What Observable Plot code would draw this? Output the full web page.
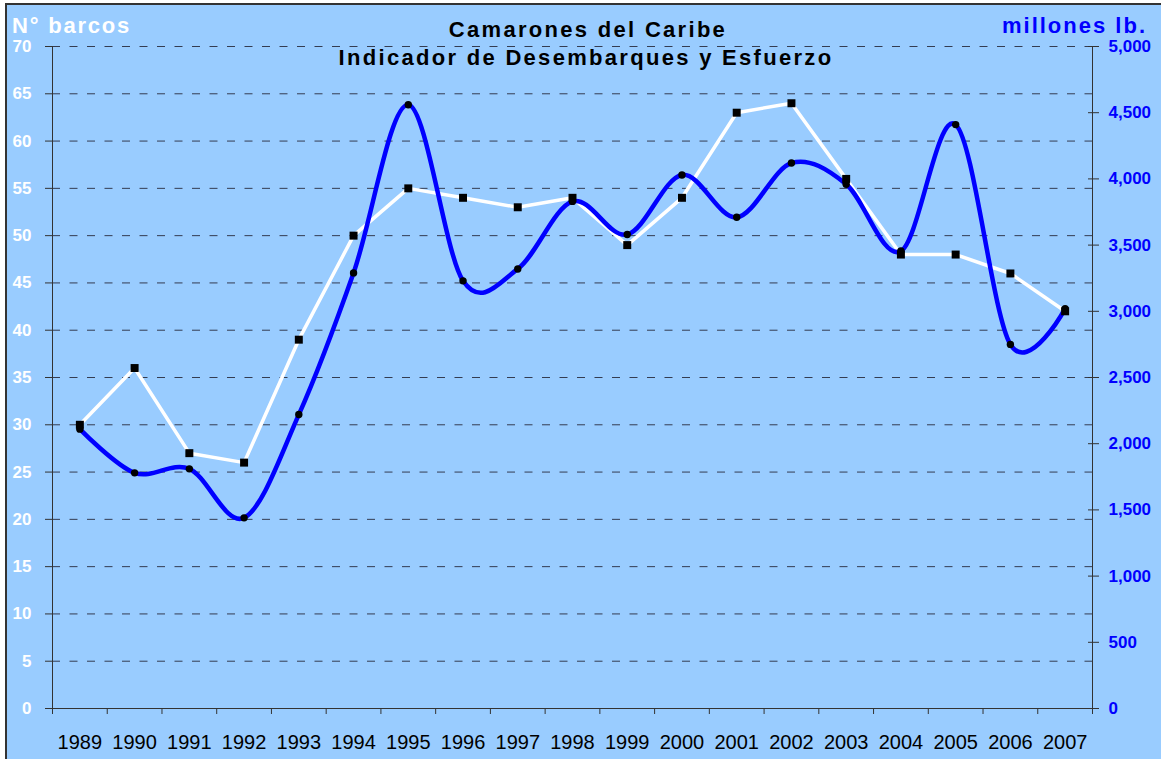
<!DOCTYPE html>
<html>
<head>
<meta charset="utf-8">
<script src="https://cdn.jsdelivr.net/npm/d3@7"></script>
<script src="https://cdn.jsdelivr.net/npm/@observablehq/plot@0.6"></script>
<style>
  html, body { margin: 0; padding: 0; background: #ffffff; width: 1161px; height: 759px; overflow: hidden; }
  #frame { position: absolute; left: 5px; top: 3px; width: 1200px; height: 800px; background: #99CCFF; border-left: 2px solid #333; border-top: 2px solid #333; }
  #chart { position: absolute; left: 0; top: 0; }
  #overlay { position: absolute; left: 0; top: 0; pointer-events: none; }
  #overlay text { font-family: "Liberation Sans", Arial, sans-serif; font-weight: bold; }
</style>
</head>
<body>
<div id="frame"></div>
<div id="chart"></div>
<svg id="overlay" width="1161" height="759">
  <text x="588" y="37" text-anchor="middle" font-size="22" fill="#000" letter-spacing="2.3">Camarones del Caribe</text>
  <text x="586" y="65" text-anchor="middle" font-size="22" fill="#000" letter-spacing="2.3">Indicador de Desembarques y Esfuerzo</text>
  <text x="12" y="33" font-size="22" fill="#fff" letter-spacing="1.8">N° barcos</text>
  <text x="1147" y="33" text-anchor="end" font-size="22" fill="#0000FF" letter-spacing="2">millones lb.</text>
</svg>
<script>
const years = [1989,1990,1991,1992,1993,1994,1995,1996,1997,1998,1999,2000,2001,2002,2003,2004,2005,2006,2007];
const barcos = [30,36,27,26,39,50,55,54,53,54,49,54,63,64,56,48,48,46,42];
const desembarques = [2110,1780,1810,1440,2220,3290,4560,3230,3320,3830,3580,4030,3710,4120,3960,3455,4410,2750,3020];
const leftTicks = [0,5,10,15,20,25,30,35,40,45,50,55,60,65,70];
const rightTicks = [0,500,1000,1500,2000,2500,3000,3500,4000,4500,5000];

const k = 70 / 5000; // right axis (millones lb.) mapped onto left scale
const data = years.map((yr, i) => ({year: yr, barcos: barcos[i], des: desembarques[i] * k}));
const bounds = years.map(y => y - 0.5).concat([years[years.length - 1] + 0.5]);
const fmt = d3.format(",");

const chart = Plot.plot({
  width: 1161,
  height: 759,
  marginLeft: 52,
  marginRight: 69,
  marginTop: 46,
  marginBottom: 51,
  x: {type: "linear", domain: [bounds[0], bounds[bounds.length - 1]]},
  y: {domain: [0, 70]},
  style: {background: "transparent", fontFamily: "'Liberation Sans', Arial, sans-serif", overflow: "visible"},
  marks: [
    Plot.ruleY(leftTicks.filter(d => d > 0), {stroke: "#222233", strokeOpacity: 0.85, strokeDasharray: "8,9.5"}),
    Plot.ruleY([0], {stroke: "#333"}),
    Plot.ruleX([bounds[0], bounds[bounds.length - 1]], {y1: 0, y2: 70, stroke: "#333"}),
    Plot.axisY({anchor: "left", ticks: leftTicks, tickSize: 7, tickPadding: 14, label: null,
      stroke: "#333", fill: "white", fontWeight: "bold", fontSize: 17}),
    Plot.axisY({anchor: "right", ticks: rightTicks.map(v => v * k), tickFormat: d => fmt(Math.round(d / k)),
      tickSize: 11, dx: -5, tickPadding: 10, label: null,
      stroke: "#333", fill: "#0000FF", fontWeight: "bold", fontSize: 17}),
    Plot.axisX({ticks: years, tickSize: 0, tickPadding: 26, tickFormat: d => String(d), label: null,
      fill: "black", fontSize: 20}),
    Plot.axisX({ticks: bounds, tickSize: 6, tickFormat: () => "", label: null, stroke: "#333"}),
    Plot.line(data, {x: "year", y: "barcos", stroke: "white", strokeWidth: 3.5, strokeLinejoin: "round"}),
    Plot.line(data, {x: "year", y: "des", stroke: "#0000FF", strokeWidth: 4.5, curve: "cardinal"}),
    Plot.dot(data, {x: "year", y: "barcos", symbol: "square", fill: "black", r: 4.5}),
    Plot.dot(data, {x: "year", y: "des", fill: "black", r: 3.7})
  ]
});
document.getElementById("chart").appendChild(chart);
</script>
</body>
</html>
